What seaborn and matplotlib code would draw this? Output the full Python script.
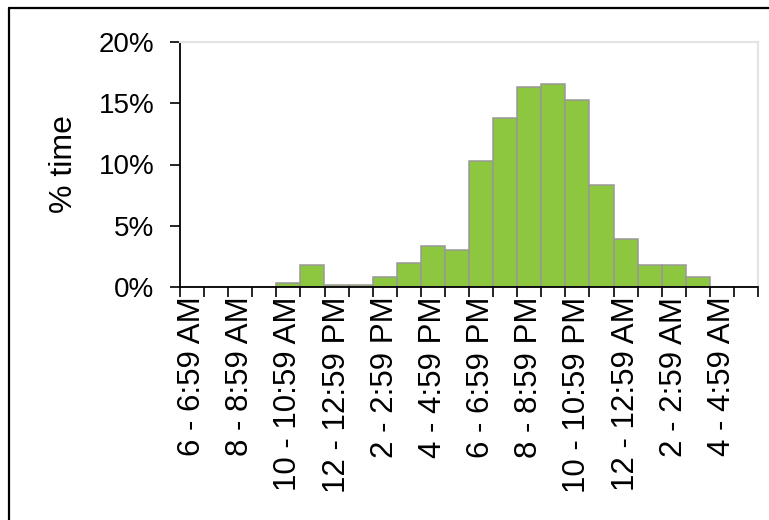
import matplotlib
matplotlib.use('Agg')
import matplotlib.pyplot as plt
import seaborn as sns
import pandas as pd
from matplotlib.ticker import FuncFormatter
from matplotlib.lines import Line2D

# hourly slots, 6 AM through 5 AM next day
hours = ['6 - 6:59 AM', '7 - 7:59 AM', '8 - 8:59 AM', '9 - 9:59 AM',
         '10 - 10:59 AM', '11 - 11:59 AM', '12 - 12:59 PM', '1 - 1:59 PM',
         '2 - 2:59 PM', '3 - 3:59 PM', '4 - 4:59 PM', '5 - 5:59 PM',
         '6 - 6:59 PM', '7 - 7:59 PM', '8 - 8:59 PM', '9 - 9:59 PM',
         '10 - 10:59 PM', '11 - 11:59 PM', '12 - 12:59 AM', '1 - 1:59 AM',
         '2 - 2:59 AM', '3 - 3:59 AM', '4 - 4:59 AM', '5 - 5:59 AM']
pct_time = [0, 0, 0, 0, 0.3, 1.8, 0.15, 0.15,
            0.85, 2.0, 3.35, 3.0, 10.25, 13.8, 16.35, 16.6,
            15.3, 8.35, 3.95, 1.8, 1.8, 0.82, 0, 0]
yticks = [0, 5, 10, 15, 20]

df = pd.DataFrame({'hour': hours, 'pct': pct_time})

sns.set_theme(style='white')
plt.rcParams['font.family'] = ['Liberation Sans', 'DejaVu Sans']
plt.rcParams['text.color'] = 'black'
plt.rcParams['xtick.color'] = 'black'
plt.rcParams['ytick.color'] = 'black'
plt.rcParams['axes.labelcolor'] = 'black'

fig = plt.figure(figsize=(7.69, 5.20), dpi=100)
ax = fig.add_axes([180 / 769, 1 - 287 / 520, 578 / 769, 245 / 520])

sns.barplot(data=df, x='hour', y='pct', ax=ax, color='#8DC63F', saturation=1,
            width=1.0, edgecolor='#999999', linewidth=1.1)

ax.set_xlim(-0.5, len(hours) - 0.5)
ax.set_ylim(0, 20)
ax.set_yticks(yticks)
ax.yaxis.set_major_formatter(FuncFormatter(lambda v, p: f'{v:.0f}%'))

# category boundary ticks, labels every other slot
ax.set_xticks([i - 0.5 for i in range(len(hours) + 1)], minor=False)
ax.set_xticklabels([])
ax.set_xticks(range(0, len(hours), 2), minor=True)
ax.set_xticklabels(hours[::2], minor=True, rotation=90, fontsize=22.5)
ax.tick_params(axis='x', which='major', direction='out', length=7.5, width=1.2,
               color='black', bottom=True)
ax.tick_params(axis='x', which='minor', length=0, pad=7, bottom=True)
ax.tick_params(axis='y', direction='out', length=7.5, width=1.2, color='black',
               left=True, labelsize=20, pad=11)

ax.set_xlabel('')
ax.set_ylabel('% time', fontsize=23)
ax.yaxis.set_label_coords(-0.175, 0.5)

for s in ['left', 'bottom']:
    ax.spines[s].set_color('black')
    ax.spines[s].set_linewidth(1.3)
for s in ['top', 'right']:
    ax.spines[s].set_color('#E3E3E3')
    ax.spines[s].set_linewidth(1.5)
ax.grid(False)

# outer chart border (top and left edges visible)
fig.add_artist(Line2D([9 / 769, 1.0], [1 - 7.5 / 520, 1 - 7.5 / 520],
                      transform=fig.transFigure, color='black', lw=1.6))
fig.add_artist(Line2D([9 / 769, 9 / 769], [0, 1 - 7.5 / 520],
                      transform=fig.transFigure, color='black', lw=1.6))

fig.savefig('out.png', dpi=100)
